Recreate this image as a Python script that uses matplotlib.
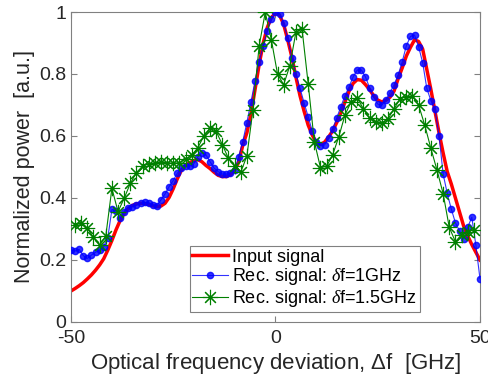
import numpy as np
import matplotlib
matplotlib.use('Agg')
import matplotlib.pyplot as plt

plt.rcParams['font.family'] = ['Liberation Sans', 'DejaVu Sans']
plt.rcParams['mathtext.fontset'] = 'custom'
plt.rcParams['mathtext.rm'] = 'Liberation Sans'
plt.rcParams['mathtext.it'] = 'Liberation Serif:italic'

# input signal, 1 GHz grid from -50 to 50
input_f = np.arange(-50, 51, 1)
input_p = [0.100, 0.108, 0.117, 0.127, 0.139, 0.152, 0.167, 0.184, 0.204, 0.232,
           0.263, 0.297, 0.327, 0.350, 0.366, 0.376, 0.381, 0.383, 0.382, 0.379,
           0.375, 0.372, 0.374, 0.383, 0.402, 0.430, 0.462, 0.490, 0.505, 0.514,
           0.520, 0.524, 0.517, 0.505, 0.495, 0.483, 0.473, 0.469, 0.469, 0.475,
           0.490, 0.515, 0.570, 0.610, 0.670, 0.750, 0.830, 0.900, 0.950, 0.982,
           0.997, 0.990, 0.960, 0.910, 0.855, 0.790, 0.730, 0.680, 0.635, 0.603,
           0.578, 0.573, 0.580, 0.597, 0.617, 0.644, 0.675, 0.710, 0.745, 0.770,
           0.782, 0.780, 0.766, 0.750, 0.730, 0.716, 0.710, 0.715, 0.725, 0.745,
           0.785, 0.820, 0.858, 0.886, 0.910, 0.905, 0.880, 0.815, 0.750, 0.680,
           0.610, 0.545, 0.485, 0.445, 0.400, 0.355, 0.310, 0.278, 0.250, 0.225,
           0.200]

# reconstructed signal, df = 1 GHz
rec1_f = np.arange(-50, 51, 1)
rec1_p = [0.232, 0.229, 0.234, 0.214, 0.205, 0.216, 0.225, 0.232, 0.243, 0.272,
          0.363, 0.359, 0.334, 0.356, 0.369, 0.372, 0.377, 0.383, 0.386, 0.385,
          0.377, 0.375, 0.394, 0.413, 0.437, 0.456, 0.480, 0.496, 0.503, 0.503,
          0.510, 0.533, 0.546, 0.539, 0.517, 0.496, 0.485, 0.477, 0.477, 0.482,
          0.490, 0.533, 0.582, 0.643, 0.710, 0.777, 0.838, 0.891, 0.939, 0.977,
          0.999, 0.995, 0.963, 0.915, 0.853, 0.799, 0.754, 0.707, 0.662, 0.616,
          0.582, 0.568, 0.571, 0.593, 0.623, 0.659, 0.695, 0.730, 0.759, 0.791,
          0.813, 0.813, 0.791, 0.756, 0.725, 0.703, 0.700, 0.716, 0.740, 0.765,
          0.797, 0.840, 0.891, 0.921, 0.926, 0.888, 0.836, 0.754, 0.714, 0.686,
          0.600, 0.477, 0.415, 0.364, 0.320, 0.294, 0.268, 0.305, 0.338, 0.248,
          0.140]

# reconstructed signal, df = 1.5 GHz
rec15_p = [0.313, 0.318, 0.302, 0.273, 0.248, 0.277, 0.431, 0.356, 0.399, 0.447,
           0.482, 0.503, 0.510, 0.512, 0.517, 0.514, 0.512, 0.514, 0.525, 0.538,
           0.562, 0.600, 0.625, 0.615, 0.572, 0.528, 0.503, 0.483, 0.535, 0.685,
           0.890, 0.999, 0.910, 0.800, 0.766, 0.826, 0.935, 0.945, 0.768, 0.582,
           0.498, 0.502, 0.540, 0.598, 0.668, 0.710, 0.722, 0.688, 0.657, 0.646,
           0.642, 0.655, 0.688, 0.720, 0.727, 0.728, 0.700, 0.635, 0.560, 0.490,
           0.414, 0.305, 0.259, 0.282, 0.290, 0.298]
rec15_f = -49 + 1.5 * np.arange(len(rec15_p))

xticks = [-50, 0, 50]
xticklabels = ['-50', '0', '50']
yticks = [0, 0.2, 0.4, 0.6, 0.8, 1]
yticklabels = ['0', '0.2', '0.4', '0.6', '0.8', '1']

fig = plt.figure(figsize=(4.88, 3.81), dpi=100)
ax = fig.add_axes([0.1455, 0.1549, 0.838, 0.8136])

ax.plot(input_f, input_p, color='red', lw=2.5, label='Input signal', zorder=2)
ax.plot(rec1_f, rec1_p, color='blue', lw=0.8, alpha=0.8, marker='o', ms=4.5,
        mfc='blue', mec='blue', label=r'Rec. signal: $\it{\delta}$f=1GHz', zorder=3)
ax.plot(rec15_f, rec15_p, color='#008000', lw=0.8, marker=(8, 2, 0), ms=11,
        mew=0.8, label=r'Rec. signal: $\it{\delta}$f=1.5GHz', zorder=4)

ax.set_xlim(-50, 50)
ax.set_ylim(0, 1)
ax.set_xticks(xticks)
ax.set_xticklabels(xticklabels)
ax.set_yticks(yticks)
ax.set_yticklabels(yticklabels)
ax.tick_params(direction='in', top=True, right=True, labelsize=14,
               colors='0.5', labelcolor='#262626', length=4)
ax.tick_params(axis='x', pad=6)
for s in ax.spines.values():
    s.set_color('0.5')

ax.set_xlabel(r'Optical frequency deviation, $\Delta$f  [GHz]', fontsize=16,
              color='#262626', labelpad=3)
ax.set_ylabel('Normalized power  [a.u.]', fontsize=15.5, color='#262626', labelpad=3)

leg = ax.legend(loc='lower right', bbox_to_anchor=(0.853, 0.032), borderaxespad=0,
                fontsize=13, fancybox=False, edgecolor='0.5', framealpha=1,
                handlelength=2.0, handletextpad=0.2, labelspacing=0.05,
                borderpad=0.15)
leg.get_frame().set_linewidth(0.8)

fig.savefig('out.png', dpi=100)
